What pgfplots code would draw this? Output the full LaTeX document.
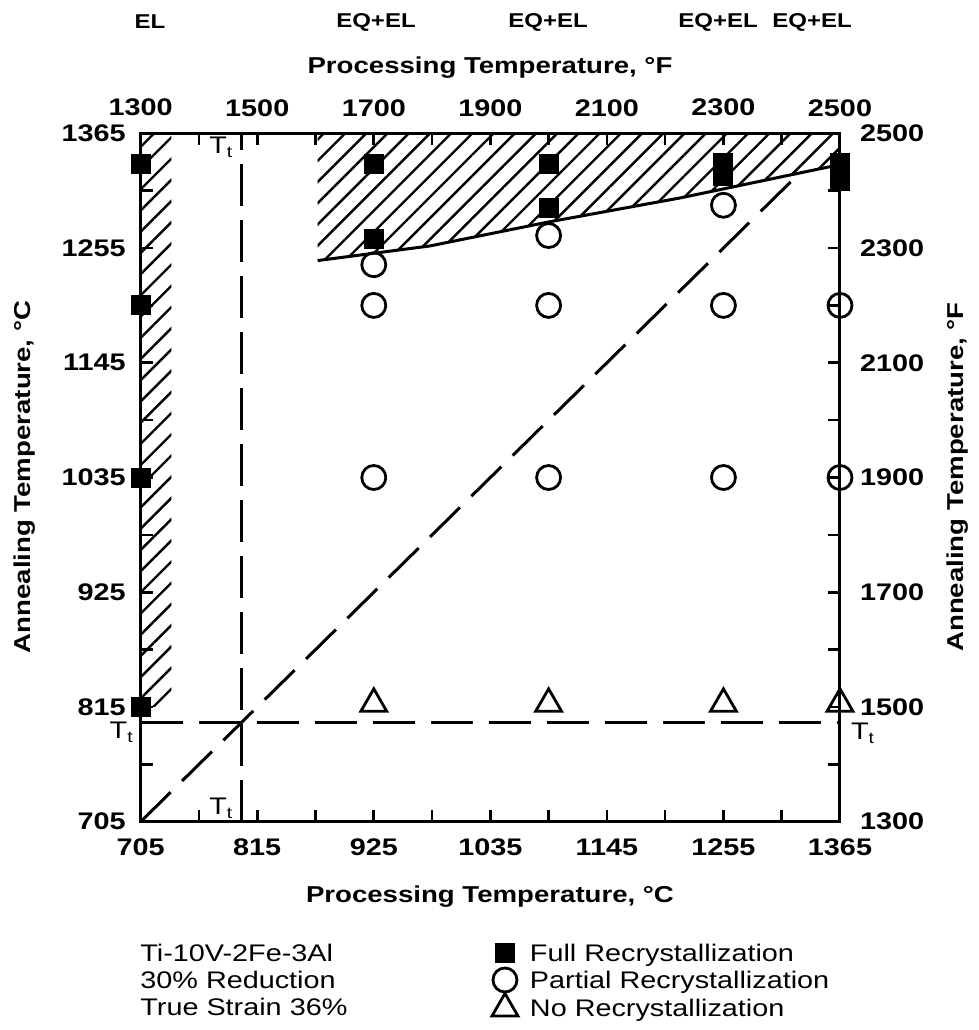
\documentclass[border=0pt]{standalone}
\usepackage{fontspec}
\setmainfont{Liberation Sans}[FakeStretch=1.2]
\usepackage{pgfplots}
\pgfplotsset{compat=1.18}
\usetikzlibrary{patterns.meta}
\begin{document}
\begin{tikzpicture}
\useasboundingbox (-70.35pt,-104.15pt) rectangle (419.15pt,410.85pt);
\begin{axis}[
  scale only axis, width=349.65pt, height=344.2pt,
  xmin=705, xmax=1365, ymin=705, ymax=1365,
  xtick={705,760,815,870,925,980,1035,1090,1145,1200,1255,1310,1365},
  ytick={705,760,815,870,925,980,1035,1090,1145,1200,1255,1310,1365},
  xticklabels={705,,815,,925,,1035,,1145,,1255,,1365},
  yticklabels={705,,815,,925,,1035,,1145,,1255,,1365},
  tick align=inside,
  major tick length=6pt,
  every tick/.style={black, line width=1.3pt},
  axis line style={line width=1.5pt},
  tick label style={font=\bfseries\fontsize{12}{14}\selectfont},
  xticklabel style={yshift=-5pt},
  yticklabel style={xshift=-4pt},
  /pgf/number format/assume math mode=true,
  clip=false,
  legend style={at={(0.4866,-0.1711)}, anchor=north west, draw=none, fill=none,
    inner sep=0pt, outer sep=0pt, row sep=0pt, column sep=0pt,
    font=\fontsize{12}{14}\selectfont, legend cell align=left,
    nodes={inner xsep=0.5pt, inner ysep=0pt, text height=11pt, text depth=2.5pt}},
  legend image code/.code={\path[draw=none, fill=none] (0pt,0pt) -- (24pt,0pt);
    \draw[#1, only marks] plot coordinates {(12pt,0pt)};},
]
% hatched regions
\addplot[draw=none, pattern={Lines[angle=45,distance=7.5pt,line width=1.2pt]}, forget plot]
  coordinates {(705,815)(734,815)(734,1365)(705,1365)} -- cycle;
\addplot[draw=none, pattern={Lines[angle=45,distance=7.5pt,line width=1.2pt]}, forget plot]
  coordinates {(872,1243)(978,1257)(1090,1280)(1214,1303)(1365,1335)(1365,1365)(872,1365)} -- cycle;
\addplot[black, line width=1.5pt, forget plot]
  coordinates {(872,1243)(978,1257)(1090,1280)(1214,1303)(1365,1335)};
% transus lines
\addplot[black, line width=1.5pt, dash pattern=on 21pt off 8pt, forget plot]
  coordinates {(705,800)(1365,800)};
\addplot[black, line width=1.5pt, dash pattern=on 21pt off 7pt, forget plot]
  coordinates {(800,705)(800,1365)};
\addplot[black, line width=1.5pt, dash pattern=on 21pt off 8pt, forget plot]
  coordinates {(705,705)(1326,1326)};
% data
\addplot[black, only marks, mark=square*, mark size=4.75pt, mark options={fill=black, draw=black, line width=0.5pt}]
  coordinates {(705,1336)(705,1200)(705,1035)(705,815)
               (925,1336)(925,1264)
               (1090,1336)(1090,1293)
               (1255,1337)(1255,1324)
               (1365,1337)(1365,1319)};
\addlegendentry{Full Recrystallization}
\addplot[black, only marks, mark=o, mark size=6pt, mark options={line width=1.4pt, draw=black, fill=none}]
  coordinates {(925,1239)(925,1200)(925,1035)
               (1090,1267)(1090,1200)(1090,1035)
               (1255,1296)(1255,1200)(1255,1035)
               (1365,1200)(1365,1035)};
\addlegendentry{Partial Recrystallization}
\addplot[black, only marks, mark=triangle, mark size=7.5pt, mark options={line width=1.4pt, draw=black, fill=none}]
  coordinates {(925,818)(1090,818)(1255,818)(1365,818)};
\addlegendentry{No Recrystallization}
\end{axis}
\begin{axis}[
  scale only axis, width=349.65pt, height=344.2pt,
  xmin=1300, xmax=2500, ymin=1300, ymax=2500,
  xtick={1300,1500,1700,1900,2100,2300,2500},
  ytick={1300,1500,1700,1900,2100,2300,2500},
  xticklabels={1300,1500,1700,1900,2100,2300,2500},
  yticklabels={1300,1500,1700,1900,2100,2300,2500},
  xticklabel pos=upper, yticklabel pos=right,
  axis line style={draw=none}, major tick length=0pt, tick style={draw=none},
  tick label style={font=\bfseries\fontsize{12}{14}\selectfont},
  xticklabel style={yshift=5pt},
  yticklabel style={xshift=6.5pt},
]
\end{axis}
% texts
\begin{scope}[every node/.style={font=\bfseries\fontsize{10}{12}\selectfont}]
\node at (4.65pt,399.85pt) {EL};
\node at (117.65pt,399.85pt) {EQ+EL};
\node at (203.65pt,399.85pt) {EQ+EL};
\node at (288.65pt,399.85pt) {EQ+EL};
\node at (335.65pt,399.85pt) {EQ+EL};
\end{scope}
\begin{scope}[every node/.style={font=\bfseries\fontsize{11.5}{13}\selectfont}]
\node at (174.65pt,376.85pt) {Processing Temperature, °F};
\node at (174.65pt,-37.65pt) {Processing Temperature, °C};
\node[rotate=90] at (-57.85pt,172.35pt) {Annealing Temperature, °C};
\node[rotate=90] at (408.65pt,172.35pt) {Annealing Temperature, °F};
\end{scope}
\begin{scope}[every node/.style={font=\fontsize{12}{14}\selectfont, inner sep=0pt}]
\node[anchor=north east] at (-3.35pt,49.85pt) {T\textsubscript{t}};
\node[anchor=south east] at (46.5pt,1.5pt) {T\textsubscript{t}};
\node[anchor=north east] at (46.5pt,342.5pt) {T\textsubscript{t}};
\node[anchor=north west] at (355pt,49.35pt) {T\textsubscript{t}};
\node[anchor=base west] at (-0.35pt,-69.9pt) {Ti-10V-2Fe-3Al};
\node[anchor=base west] at (-0.35pt,-83.4pt) {30\% Reduction};
\node[anchor=base west] at (-0.35pt,-96.9pt) {True Strain 36\%};
\end{scope}
\end{tikzpicture}
\end{document}
